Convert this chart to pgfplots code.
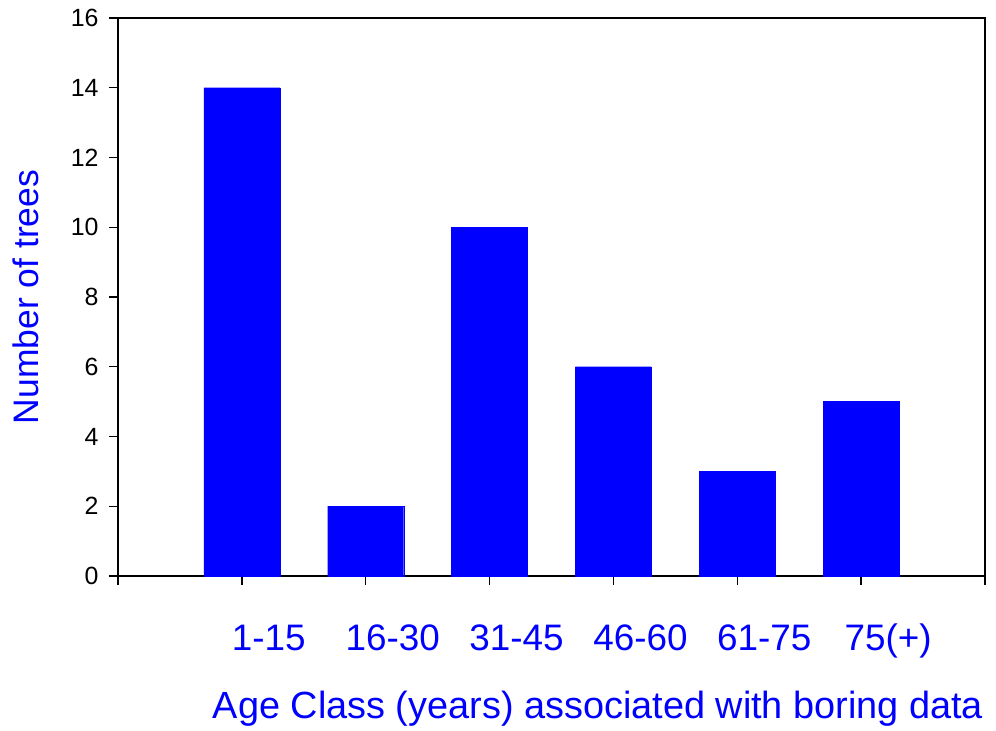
\documentclass[border=0pt]{standalone}
\usepackage{fontspec}
\setmainfont{Liberation Sans}
\usepackage{pgfplots}
\pgfplotsset{compat=1.18}
\begin{document}
\begin{tikzpicture}
\useasboundingbox (0,0) rectangle (996bp,731bp);
\begin{axis}[
  at={(118bp,155bp)}, anchor=south west,
  width=867bp, height=558bp, scale only axis,
  xmin=0, xmax=7, ymin=0, ymax=16,
  ytick={0,2,...,16},
  xtick={0,1,...,7},
  xticklabels={{},1-15,16-30,31-45,46-60,61-75,75(+),{}},
  tick align=outside,
  major tick length=9bp,
  xtick pos=bottom, ytick pos=left,
  axis line style={line width=1.3bp},
  every tick/.style={black, line width=1.3bp},
  /pgf/number format/assume math mode=true,
  yticklabel style={font=\fontsize{25}{30}\selectfont, xshift=-7bp},
  xticklabel style={font=\fontsize{37}{44}\selectfont, text=blue, anchor=base, xshift=27bp, yshift=-65bp},
  xlabel={Age Class (years) associated with boring data},
  every axis x label/.style={at={(axis description cs:0.5,0)}, anchor=base, xshift=46.5bp, yshift=-142bp},
  xlabel style={font=\fontsize{38}{45}\selectfont, text=blue},
  ylabel={Number of trees},
  every axis y label/.style={at={(axis description cs:0,0.5)}, rotate=90, anchor=center, yshift=92bp},
  ylabel style={font=\fontsize{35.6}{42}\selectfont, text=blue},
  clip=false,
]
\addplot[ybar, bar width=76bp, fill=blue, draw=blue] coordinates {(1,14) (2,2) (3,10) (4,6) (5,3) (6,5)};
\end{axis}
\end{tikzpicture}
\end{document}
